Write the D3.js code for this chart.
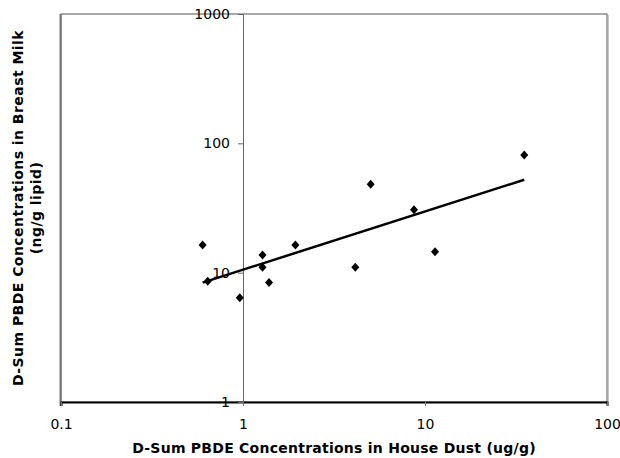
<!DOCTYPE html>
<html>
<head>
<meta charset="utf-8">
<script src="https://cdn.jsdelivr.net/npm/d3@7"></script>
<style>
  body { margin: 0; background: #fff; }
  svg { display: block; }
  .tick-label { font-family: "DejaVu Sans", Verdana, sans-serif; font-size: 14px; fill: #000; }
  .axis-title { font-family: "DejaVu Sans", Verdana, sans-serif; font-size: 14px; font-weight: bold; fill: #000; }
</style>
</head>
<body>
<div id="chart"></div>
<script>
// house dust (ug/g) vs breast milk (ng/g lipid)
var dustValues = [0.6, 0.64, 0.96, 1.28, 1.28, 1.39, 1.94, 4.14, 5.03, 8.7, 11.35, 35.1];
var milkValues = [16.4, 8.6, 6.4, 13.7, 11.0, 8.4, 16.4, 11.0, 48.3, 30.7, 14.5, 81.3];
var xTicks = [0.1, 1, 10, 100];
var yTicks = [1, 10, 100, 1000];

var data = dustValues.map(function(d, i) {
  return { dust: d, milk: milkValues[i] };
});

var width = 620, height = 458;
var margin = { top: 14, right: 13, bottom: 56, left: 61 };
var plotW = width - margin.left - margin.right,
    plotH = height - margin.top - margin.bottom;

var svg = d3.select("#chart").append("svg")
  .attr("width", width)
  .attr("height", height);

var g = svg.append("g")
  .attr("transform", "translate(" + margin.left + "," + margin.top + ")");

var x = d3.scaleLog().domain([0.1, 100]).range([0, plotW]);
var y = d3.scaleLog().domain([1, 1000]).range([plotH, 0]);

// plot frame, with a light shadow on the right
g.append("line")
  .attr("x1", plotW + 1.5).attr("x2", plotW + 1.5)
  .attr("y1", 1).attr("y2", plotH)
  .attr("stroke", "#c8c8c8").attr("stroke-width", 1);
g.append("rect")
  .attr("x", 0).attr("y", 0)
  .attr("width", plotW).attr("height", plotH)
  .attr("fill", "none")
  .attr("stroke", "#555").attr("stroke-width", 1);
g.append("line")
  .attr("x1", -0.5).attr("x2", -0.5)
  .attr("y1", 0).attr("y2", plotH + 4)
  .attr("stroke", "#777").attr("stroke-width", 2);

// x axis (at y = 1)
var xAxis = d3.axisBottom(x)
  .tickValues(xTicks)
  .tickSize(4)
  .tickFormat(function(d) { return d; });
var gx = g.append("g")
  .attr("transform", "translate(0," + plotH + ")")
  .call(xAxis);
gx.select(".domain").attr("stroke", "#000").attr("stroke-width", 2);
gx.selectAll(".tick line").attr("stroke", "#777");
gx.selectAll(".tick text")
  .attr("class", "tick-label")
  .attr("font-family", null).attr("font-size", null)
  .attr("y", 17);

// y axis (crosses at x = 1)
var yAxis = d3.axisLeft(y)
  .tickValues(yTicks)
  .tickSize(5)
  .tickFormat(function(d) { return d; });
var gy = g.append("g")
  .attr("transform", "translate(" + x(1) + ",0)")
  .call(yAxis);
gy.select(".domain").attr("stroke", "#666").attr("stroke-width", 1);
gy.selectAll(".tick line").attr("stroke", "#666");
gy.selectAll(".tick text")
  .attr("class", "tick-label")
  .attr("font-family", null).attr("font-size", null)
  .attr("x", -13);

// power trend line fitted in log space
var lx = data.map(function(d) { return Math.log10(d.dust); });
var ly = data.map(function(d) { return Math.log10(d.milk); });
var mx = d3.mean(lx), my = d3.mean(ly);
var sxy = d3.sum(lx, function(v, i) { return (v - mx) * (ly[i] - my); });
var sxx = d3.sum(lx, function(v) { return (v - mx) * (v - mx); });
var slope = sxy / sxx, intercept = my - slope * mx;
var xExt = d3.extent(dustValues);
var trend = xExt.map(function(v) {
  return { dust: v, milk: Math.pow(10, intercept + slope * Math.log10(v)) };
});

g.append("path")
  .datum(trend)
  .attr("fill", "none")
  .attr("stroke", "#000")
  .attr("stroke-width", 2.5)
  .attr("d", d3.line()
    .x(function(d) { return x(d.dust); })
    .y(function(d) { return y(d.milk); }));

// diamond markers
g.selectAll(".pt")
  .data(data)
  .enter().append("path")
  .attr("class", "pt")
  .attr("d", "M0,-4.5L4,0L0,4.5L-4,0Z")
  .attr("fill", "#000")
  .attr("transform", function(d) {
    return "translate(" + x(d.dust) + "," + y(d.milk) + ")";
  });

// axis titles
svg.append("text")
  .attr("class", "axis-title")
  .attr("x", margin.left + plotW / 2)
  .attr("y", 453)
  .attr("text-anchor", "middle")
  .style("letter-spacing", "0.25px")
  .text("D-Sum PBDE Concentrations in House Dust (ug/g)");

var yt = svg.append("text")
  .attr("class", "axis-title")
  .attr("text-anchor", "middle")
  .style("letter-spacing", "0.45px")
  .attr("transform", "translate(23," + (margin.top + plotH / 2) + ") rotate(-90)");
yt.append("tspan").attr("x", 0).attr("y", 0).text("D-Sum PBDE Concentrations in Breast Milk");
yt.append("tspan").attr("x", 0).attr("y", 18).text("(ng/g lipid)");
</script>
</body>
</html>
